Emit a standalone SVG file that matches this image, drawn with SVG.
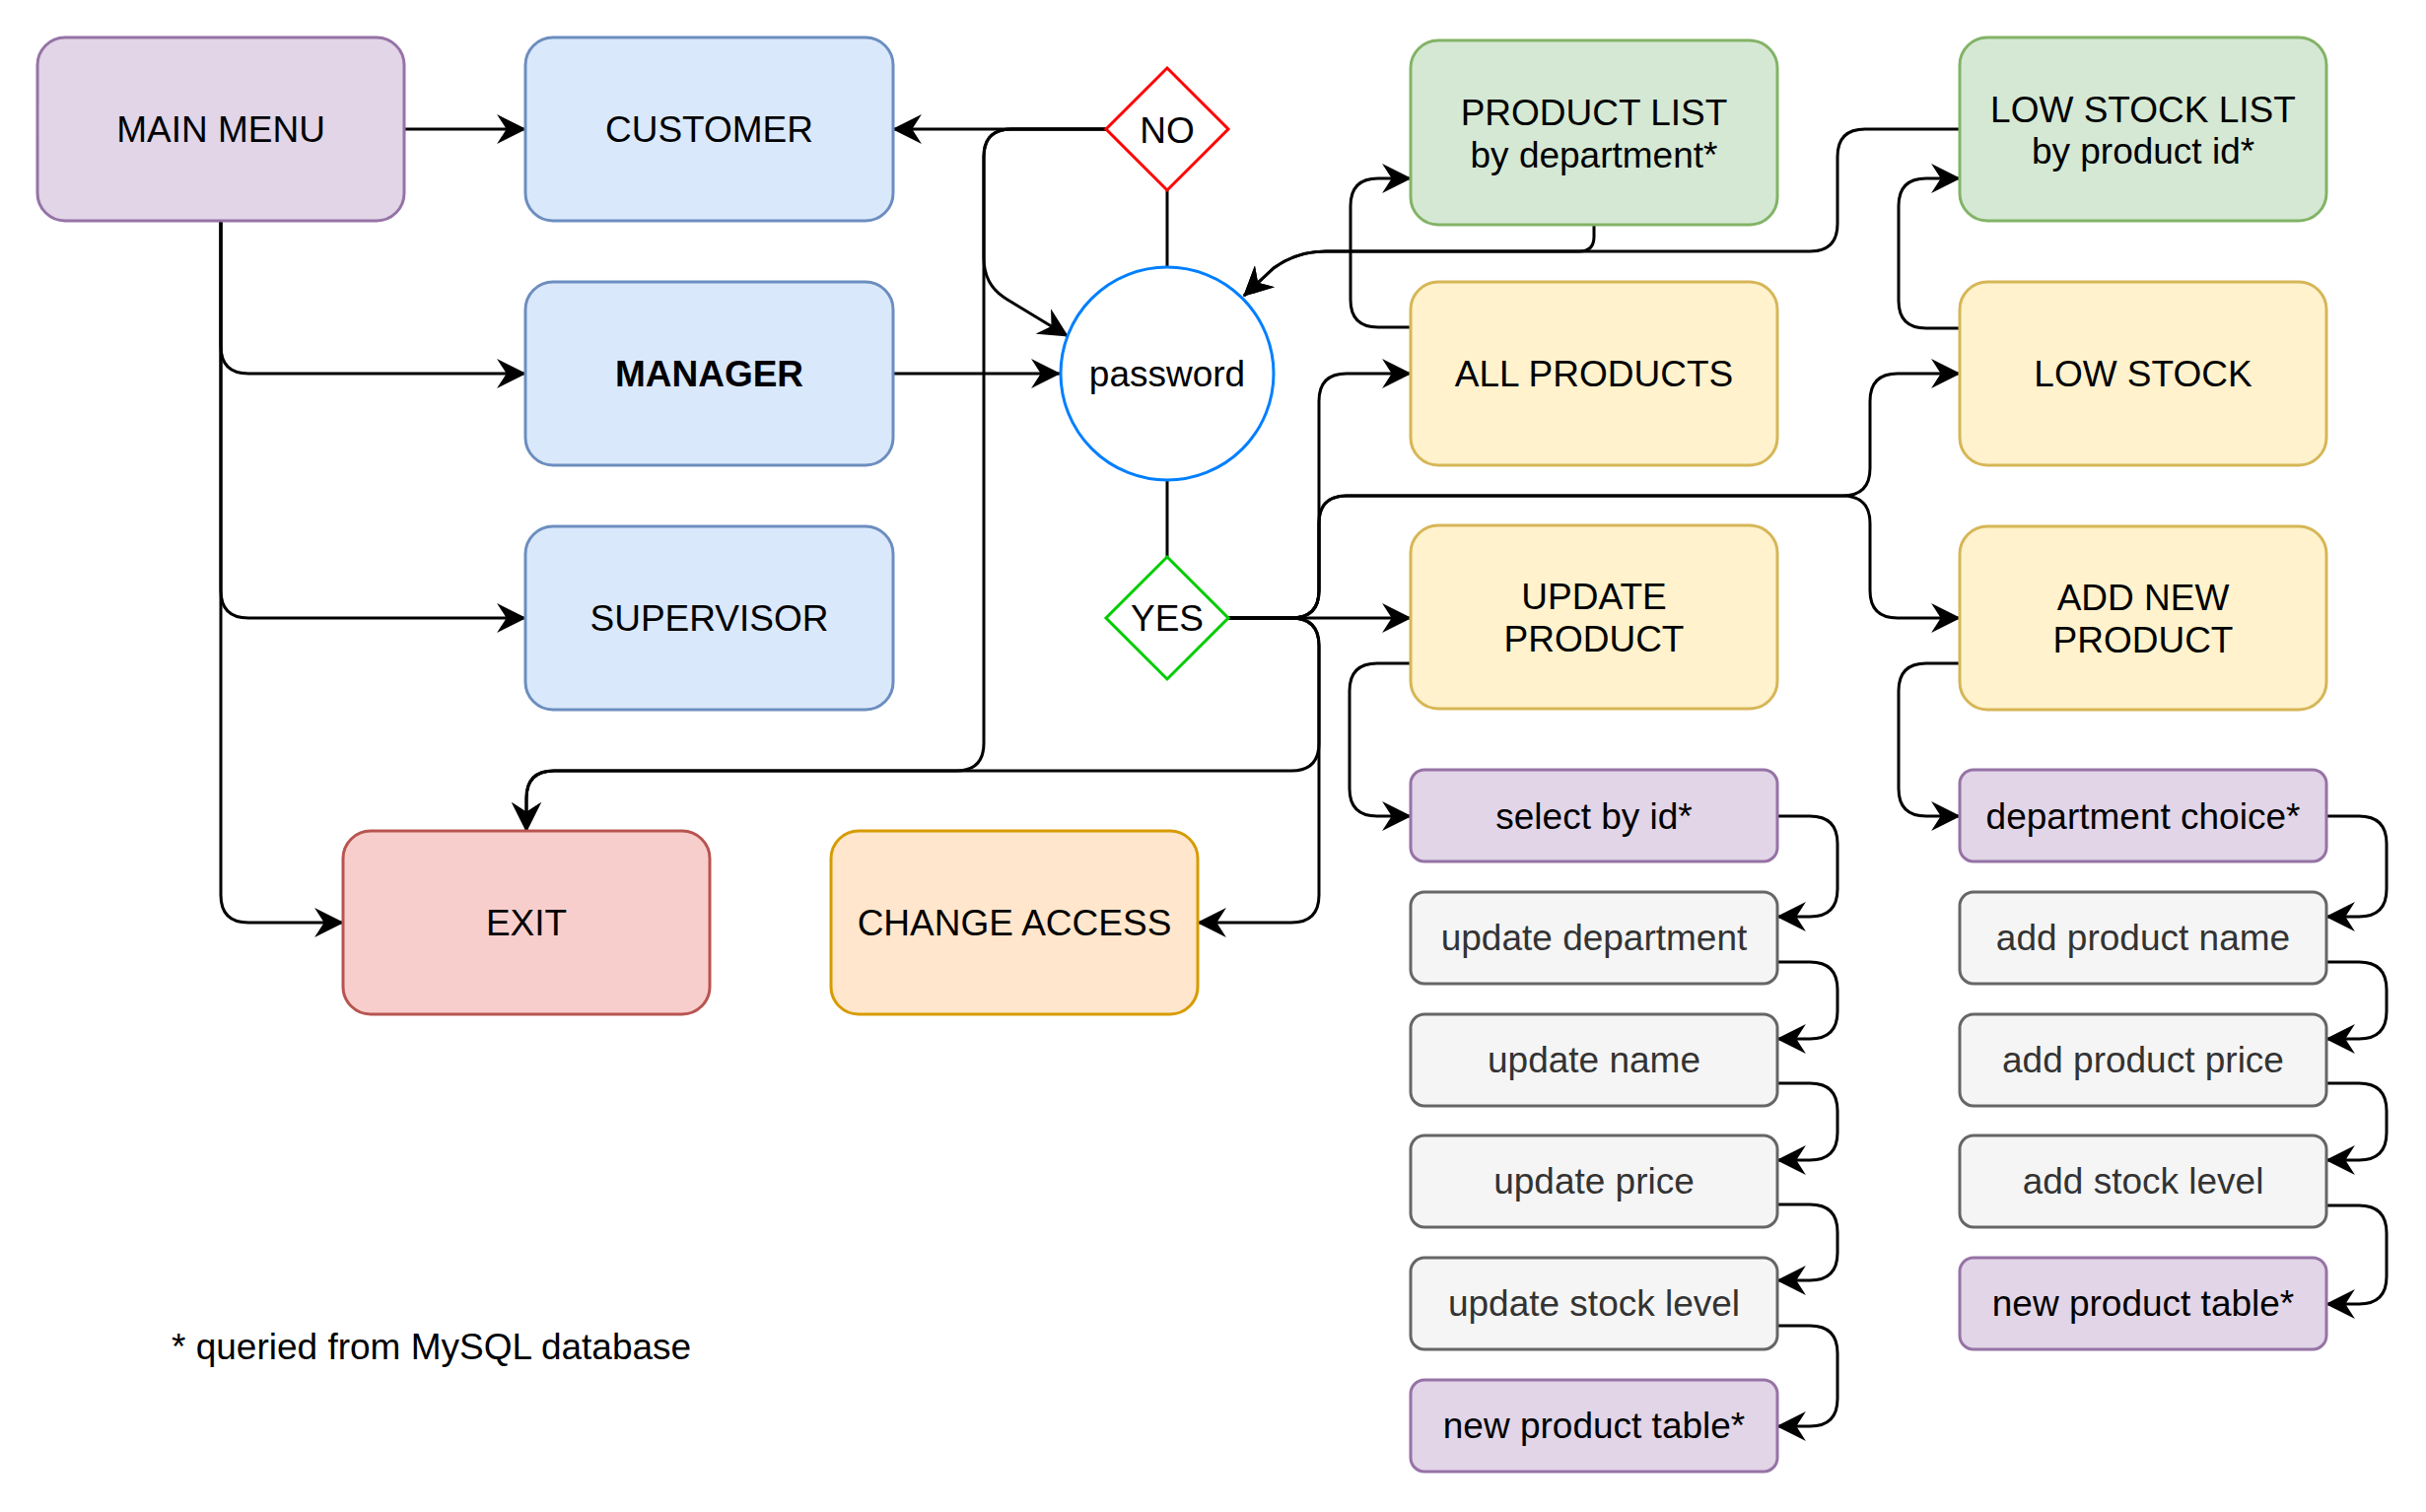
<svg xmlns="http://www.w3.org/2000/svg" width="2461" height="1534" viewBox="0 0 2461 1534">
<defs>
<marker id="arr" markerUnits="userSpaceOnUse" markerWidth="30" markerHeight="30" viewBox="0 0 28 28" refX="27" refY="14" orient="auto">
<path d="M0,0 L28,14 L0,28 L9,14 Z" fill="#000"/>
</marker>
</defs>
<style>
text{font-family:"Liberation Sans",Arial,sans-serif;font-size:37px;text-anchor:middle;fill:#000}
.b{stroke-width:3}
.purple{fill:#e1d5e7;stroke:#9673a6}
.blue{fill:#dae8fc;stroke:#6c8ebf}
.green{fill:#d5e8d4;stroke:#82b366}
.yellow{fill:#fff2cc;stroke:#d6b656}
.grey{fill:#f5f5f5;stroke:#666666}
.red{fill:#f8cecc;stroke:#b85450}
.orange{fill:#ffe6cc;stroke:#d79b00}
.gt{fill:#333333}
.c path{fill:none;stroke:#000;stroke-width:3;stroke-linejoin:round}
.c path.a{marker-end:url(#arr)}
</style>
<rect width="2461" height="1534" fill="#fff"/>
<g class="c" id="connectors">
<path class="a" d="M410,131 H533"/>
<path class="a" d="M224,224 V351 Q224,379 252,379 H533"/>
<path class="a" d="M224,224 V599 Q224,627 252,627 H533"/>
<path class="a" d="M224,224 V908 Q224,936 252,936 H348"/>
<path class="a" d="M906,379 H1075"/>
<path class="a" d="M1122,131 H906"/>
<path class="a" d="M1122,131 H1026 Q998,131 998,159 V262 Q998,290 1022,304 L1083,341"/>
<path class="a" d="M1122,131 H1026 Q998,131 998,159 V754 Q998,782 970,782 H562 Q534,782 534,810 V843"/>
<path d="M1184,193 V271"/>
<path d="M1184,488 V565"/>
<path class="a" d="M1245,627 H1431"/>
<path class="a" d="M1245,627 H1310 Q1338,627 1338,599 V407 Q1338,379 1366,379 H1431"/>
<path class="a" d="M1245,627 H1310 Q1338,627 1338,599 V531 Q1338,503 1366,503 H1869 Q1897,503 1897,475 V407 Q1897,379 1925,379 H1988"/>
<path class="a" d="M1245,627 H1310 Q1338,627 1338,599 V531 Q1338,503 1366,503 H1869 Q1897,503 1897,531 V599 Q1897,627 1925,627 H1988"/>
<path class="a" d="M1245,627 H1310 Q1338,627 1338,655 V754 Q1338,782 1310,782 H562 Q534,782 534,810 V843"/>
<path class="a" d="M1245,627 H1310 Q1338,627 1338,655 V908 Q1338,936 1310,936 H1215"/>
<path class="a" d="M1431,332 H1398 Q1370,332 1370,304 V209 Q1370,181 1398,181 H1431"/>
<path class="a" d="M1431,673 H1397 Q1369,673 1369,701 V800 Q1369,828 1397,828 H1431"/>
<path class="a" d="M1988,333 H1954 Q1926,333 1926,305 V209 Q1926,181 1954,181 H1988"/>
<path class="a" d="M1988,673 H1954 Q1926,673 1926,701 V800 Q1926,828 1954,828 H1988"/>
<path class="a" d="M1617,228 V240 Q1617,255 1602,255 H1345 Q1315,255 1292,272 L1262,300"/>
<path class="a" d="M1988,131 H1892 Q1864,131 1864,159 V227 Q1864,255 1836,255 H1345 Q1315,255 1292,272 L1262,300"/>
<path class="a" d="M1803,828 H1836 Q1864,828 1864,856 V902 Q1864,930 1836,930 H1803"/>
<path class="a" d="M1803,976 H1836 Q1864,976 1864,1004 V1026 Q1864,1054 1836,1054 H1803"/>
<path class="a" d="M1803,1099 H1836 Q1864,1099 1864,1127 V1149 Q1864,1177 1836,1177 H1803"/>
<path class="a" d="M1803,1222 H1836 Q1864,1222 1864,1250 V1271 Q1864,1299 1836,1299 H1803"/>
<path class="a" d="M1803,1345 H1836 Q1864,1345 1864,1373 V1419 Q1864,1447 1836,1447 H1803"/>
<path class="a" d="M2360,828 H2393 Q2421,828 2421,856 V902 Q2421,930 2393,930 H2360"/>
<path class="a" d="M2360,976 H2393 Q2421,976 2421,1004 V1026 Q2421,1054 2393,1054 H2360"/>
<path class="a" d="M2360,1099 H2393 Q2421,1099 2421,1127 V1149 Q2421,1177 2393,1177 H2360"/>
<path class="a" d="M2360,1223 H2393 Q2421,1223 2421,1251 V1295 Q2421,1323 2393,1323 H2360"/>
</g>
<g id="main-menu"><rect class="b purple" x="38" y="38" width="372" height="186" rx="28"/><text x="224" y="144">MAIN MENU</text></g>
<g id="customer"><rect class="b blue" x="533" y="38" width="373" height="186" rx="28"/><text x="719.5" y="144">CUSTOMER</text></g>
<g id="manager"><rect class="b blue" x="533" y="286" width="373" height="186" rx="28"/><text x="719.5" y="392" font-weight="bold">MANAGER</text></g>
<g id="supervisor"><rect class="b blue" x="533" y="534" width="373" height="186" rx="28"/><text x="719.5" y="640">SUPERVISOR</text></g>
<g id="exit"><rect class="b red" x="348" y="843" width="372" height="186" rx="28"/><text x="534" y="949">EXIT</text></g>
<g id="change-access"><rect class="b orange" x="843" y="843" width="372" height="186" rx="28"/><text x="1029" y="949">CHANGE ACCESS</text></g>
<g id="no"><polygon points="1184,69 1246,131 1184,193 1122,131" fill="#fff" stroke="#ff0000" stroke-width="3"/><text x="1184" y="145">NO</text></g>
<g id="password"><circle cx="1184" cy="379" r="108" fill="#fff" stroke="#007fff" stroke-width="3"/><text x="1184" y="392">password</text></g>
<g id="yes"><polygon points="1184,565 1246,627 1184,689 1122,627" fill="#fff" stroke="#00cc00" stroke-width="3"/><text x="1184" y="640">YES</text></g>
<g id="product-list"><rect class="b green" x="1431" y="41" width="372" height="187" rx="28"/><text x="1617" y="127">PRODUCT LIST</text><text x="1617" y="170">by department*</text></g>
<g id="all-products"><rect class="b yellow" x="1431" y="286" width="372" height="186" rx="28"/><text x="1617" y="392">ALL PRODUCTS</text></g>
<g id="update-product"><rect class="b yellow" x="1431" y="533" width="372" height="186" rx="28"/><text x="1617" y="618">UPDATE</text><text x="1617" y="661">PRODUCT</text></g>
<g id="select-by-id"><rect class="b purple" x="1431" y="781" width="372" height="93" rx="14"/><text x="1617" y="841">select by id*</text></g>
<g id="update-department"><rect class="b grey" x="1431" y="905" width="372" height="93" rx="14"/><text class="gt" x="1617" y="964">update department</text></g>
<g id="update-name"><rect class="b grey" x="1431" y="1029" width="372" height="93" rx="14"/><text class="gt" x="1617" y="1088">update name</text></g>
<g id="update-price"><rect class="b grey" x="1431" y="1152" width="372" height="93" rx="14"/><text class="gt" x="1617" y="1211">update price</text></g>
<g id="update-stock-level"><rect class="b grey" x="1431" y="1276" width="372" height="93" rx="14"/><text class="gt" x="1617" y="1335">update stock level</text></g>
<g id="new-product-table-1"><rect class="b purple" x="1431" y="1400" width="372" height="93" rx="14"/><text x="1617" y="1459">new product table*</text></g>
<g id="low-stock-list"><rect class="b green" x="1988" y="38" width="372" height="186" rx="28"/><text x="2174" y="124">LOW STOCK LIST</text><text x="2174" y="166">by product id*</text></g>
<g id="low-stock"><rect class="b yellow" x="1988" y="286" width="372" height="186" rx="28"/><text x="2174" y="392">LOW STOCK</text></g>
<g id="add-new-product"><rect class="b yellow" x="1988" y="534" width="372" height="186" rx="28"/><text x="2174" y="619">ADD NEW</text><text x="2174" y="662">PRODUCT</text></g>
<g id="department-choice"><rect class="b purple" x="1988" y="781" width="372" height="93" rx="14"/><text x="2174" y="841">department choice*</text></g>
<g id="add-product-name"><rect class="b grey" x="1988" y="905" width="372" height="93" rx="14"/><text class="gt" x="2174" y="964">add product name</text></g>
<g id="add-product-price"><rect class="b grey" x="1988" y="1029" width="372" height="93" rx="14"/><text class="gt" x="2174" y="1088">add product price</text></g>
<g id="add-stock-level"><rect class="b grey" x="1988" y="1152" width="372" height="93" rx="14"/><text class="gt" x="2174" y="1211">add stock level</text></g>
<g id="new-product-table-2"><rect class="b purple" x="1988" y="1276" width="372" height="93" rx="14"/><text x="2174" y="1335">new product table*</text></g>
<g id="footnote"><text x="174" y="1379" style="text-anchor:start">* queried from MySQL database</text></g>
</svg>
